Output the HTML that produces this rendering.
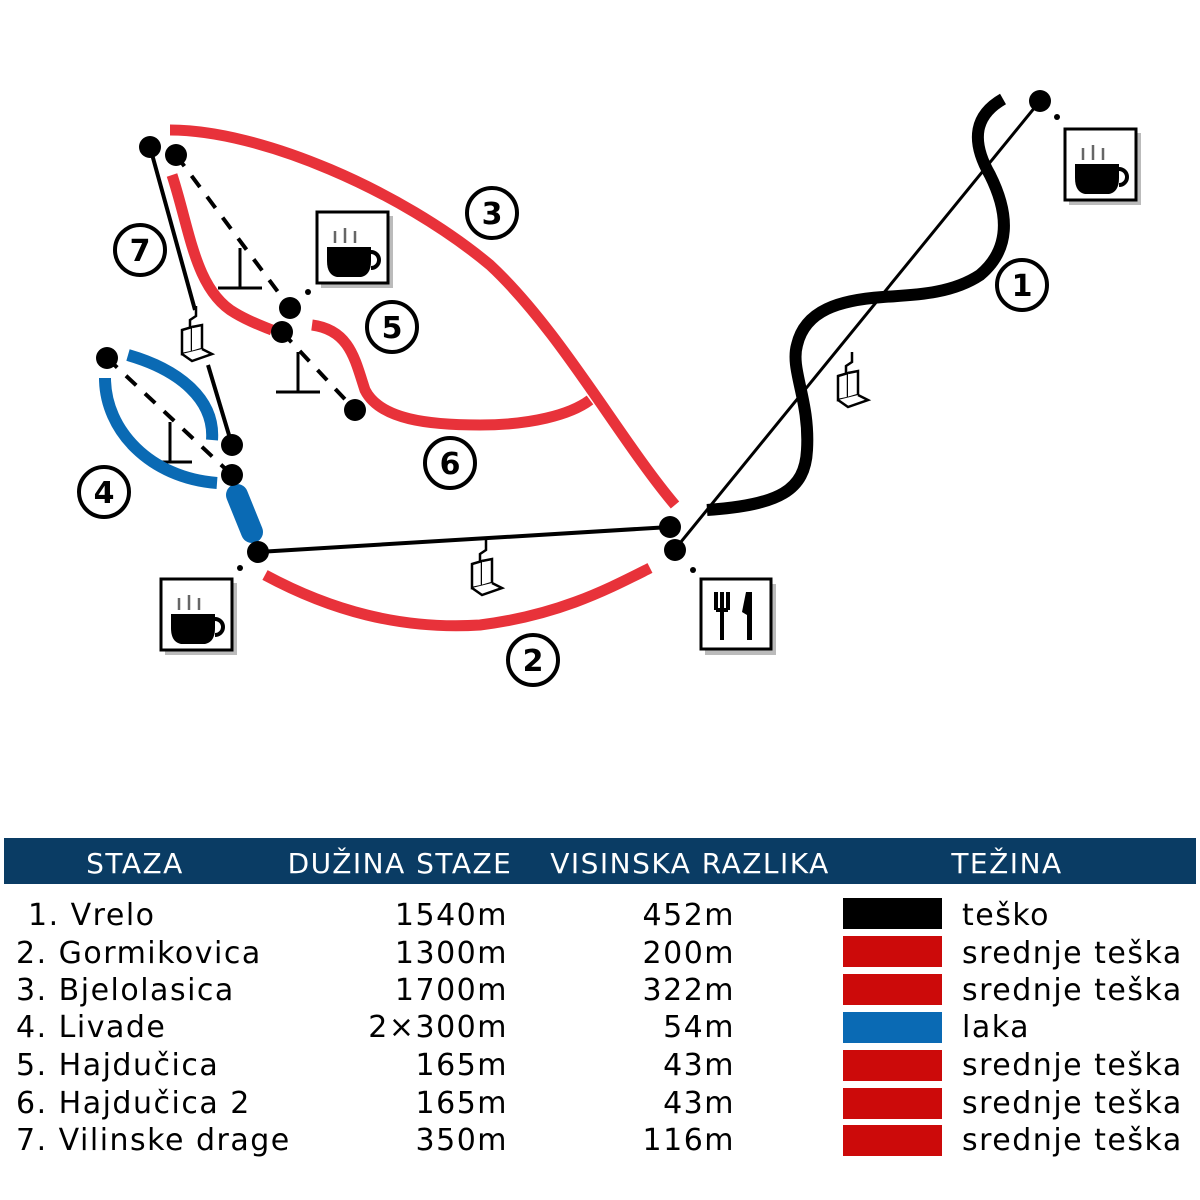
<!DOCTYPE html>
<html><head><meta charset="utf-8"><style>
html,body{margin:0;padding:0;background:#fff;}
body{width:1200px;height:1200px;position:relative;overflow:hidden;}
svg{position:absolute;left:0;top:0;}
</style></head><body>
<svg width="1200" height="1200" viewBox="0 0 1200 1200" xmlns="http://www.w3.org/2000/svg">
<defs>
<g id="cup">
  <rect x="5" y="5" width="72" height="72" fill="#bbb"/>
  <rect x="1" y="1" width="71" height="71" fill="#fff" stroke="#000" stroke-width="3"/>
  <path d="M11,36 L55,36 L55,50 Q55,64 45,66 L21,66 Q11,64 11,50 Z" fill="#000"/>
  <path d="M55,41 a8,8 0 1 1 0,16" fill="none" stroke="#000" stroke-width="4"/>
  <path d="M19,32 L19,20 M29,32 L29,17 M39,32 L39,20" stroke="#666" stroke-width="2.5"/>
</g>
<g id="chair" fill="#fff" stroke="#000" stroke-width="2.5">
  <path d="M0,0 L0,10 L-6,14 L-6,24"/>
  <path d="M-14,24 L-4,21 L-4,46 L-14,48 Z"/>
  <path d="M-4,21 L6,19 L6,43 L-4,46"/>
  <path d="M-14,48 L-4,55 L16,48 L6,43"/>
</g>
<g id="tbar" stroke="#000" stroke-width="3" fill="none">
  <path d="M0,0 L0,40 M-22,40 L22,40"/>
</g>
</defs>

<!-- lifts -->
<line x1="1040" y1="101" x2="676" y2="548" stroke="#000" stroke-width="3"/>
<line x1="258" y1="552" x2="670" y2="527" stroke="#000" stroke-width="4"/>
<line x1="150" y1="147" x2="195" y2="310" stroke="#000" stroke-width="4"/>
<line x1="208" y1="365" x2="232" y2="445" stroke="#000" stroke-width="4"/>
<line x1="176" y1="155" x2="290" y2="308" stroke="#000" stroke-width="4" stroke-dasharray="14,12"/>
<line x1="282" y1="332" x2="355" y2="410" stroke="#000" stroke-width="4" stroke-dasharray="14,12"/>
<line x1="107" y1="358" x2="232" y2="475" stroke="#000" stroke-width="4" stroke-dasharray="14,12"/>

<!-- T-bars and chairs -->
<use href="#tbar" x="240" y="248"/>
<use href="#tbar" x="298" y="352"/>
<use href="#tbar" x="170" y="422"/>
<use href="#chair" x="196" y="306"/>
<use href="#chair" x="486" y="540"/>
<use href="#chair" x="852" y="352"/>

<!-- red runs -->
<g fill="none" stroke="#e8323a" stroke-width="11" stroke-linecap="butt">
<path d="M170,130 C260,130 400,190 490,265 C560,330 620,440 675,505"/>
<path d="M172,175 C190,230 195,290 235,313 C250,322 262,326 272,330"/>
<path d="M312,325 C350,330 355,360 365,390 C380,420 430,425 480,425 C530,425 570,415 590,400"/>
<path d="M265,575 C330,610 400,630 480,625 C560,615 610,588 650,568"/>
</g>
<!-- blue -->
<g fill="none" stroke="#0a6ab4" stroke-width="12">
<path d="M128,355 C180,370 215,400 212,440"/>
<path d="M105,378 C105,430 150,478 217,483"/>
<path d="M237,495 L252,532" stroke-width="22" stroke-linecap="round"/>
</g>
<!-- black run -->
<path d="M1003,99 C975,115 970,140 990,175 C1010,215 1010,250 980,275 C950,295 910,295 883,297 C840,300 805,310 797,345 C790,370 810,400 807,450 C805,490 780,505 707,510" fill="none" stroke="#000" stroke-width="12"/>

<!-- dots -->
<g fill="#000">
<circle cx="150" cy="147" r="11"/><circle cx="176" cy="155" r="11"/>
<circle cx="290" cy="308" r="11"/><circle cx="282" cy="332" r="11"/>
<circle cx="355" cy="410" r="11"/><circle cx="107" cy="358" r="11"/>
<circle cx="232" cy="445" r="11"/><circle cx="232" cy="475" r="11"/>
<circle cx="258" cy="552" r="11"/><circle cx="670" cy="527" r="11"/>
<circle cx="675" cy="550" r="11"/><circle cx="1040" cy="101" r="11"/>
<circle cx="308" cy="292" r="3"/><circle cx="240" cy="568" r="3"/>
<circle cx="693" cy="570" r="3"/><circle cx="1057" cy="117" r="3"/>
</g>

<!-- number circles -->
<g fill="#fff" stroke="#000" stroke-width="4">
<circle cx="1022" cy="285" r="25"/><circle cx="533" cy="660" r="25"/>
<circle cx="492" cy="213" r="25"/><circle cx="104" cy="492" r="25"/>
<circle cx="392" cy="327" r="25"/><circle cx="450" cy="463" r="25"/>
<circle cx="140" cy="250" r="25"/>
</g>
<g font-family="'DejaVu Sans','Liberation Sans',sans-serif" font-weight="bold" font-size="30" text-anchor="middle" fill="#000">
<text x="1022" y="296">1</text><text x="533" y="671">2</text>
<text x="492" y="224">3</text><text x="104" y="503">4</text>
<text x="392" y="338">5</text><text x="450" y="474">6</text>
<text x="140" y="261">7</text>
</g>

<!-- service boxes -->
<use href="#cup" x="316" y="211"/>
<use href="#cup" x="1064" y="128"/>
<use href="#cup" x="160" y="578"/>
<g>
  <rect x="705" y="584" width="71" height="71" fill="#bbb"/>
  <rect x="701" y="579" width="70" height="70" fill="#fff" stroke="#000" stroke-width="3"/>
  <path d="M716,592 L716,610 M722,592 L722,610 M728,592 L728,610 M716,610 L728,610 M722,610 L722,640" stroke="#000" stroke-width="4" fill="none"/>
  <path d="M746,592 L752,592 L752,640 L747,640 L747,615 L742,612 Z" fill="#000"/>
</g>

<!-- table -->
<rect x="4" y="838" width="1192" height="46" fill="#0a3c64"/>
<g font-family="'DejaVu Sans','Liberation Sans',sans-serif" font-size="28" fill="#fff" text-anchor="middle" letter-spacing="1.5">
<text x="135" y="873">STAZA</text>
<text x="400" y="873">DUŽINA STAZE</text>
<text x="690" y="873">VISINSKA RAZLIKA</text>
<text x="1007" y="873">TEŽINA</text>
</g>
<g font-family="'DejaVu Sans','Liberation Sans',sans-serif" font-size="30" fill="#000" letter-spacing="1.5">
<text x="28" y="925">1. Vrelo</text>
<text x="16" y="963">2. Gormikovica</text>
<text x="16" y="1000">3. Bjelolasica</text>
<text x="16" y="1037">4. Livade</text>
<text x="16" y="1075">5. Hajdučica</text>
<text x="16" y="1113">6. Hajdučica 2</text>
<text x="16" y="1150">7. Vilinske drage</text>
</g>
<g font-family="'DejaVu Sans','Liberation Sans',sans-serif" font-size="30" fill="#000" letter-spacing="1.5" text-anchor="end">
<text x="508" y="925">1540m</text><text x="508" y="963">1300m</text>
<text x="508" y="1000">1700m</text><text x="508" y="1037">2×300m</text>
<text x="508" y="1075">165m</text><text x="508" y="1113">165m</text>
<text x="508" y="1150">350m</text>
<text x="735" y="925">452m</text><text x="735" y="963">200m</text>
<text x="735" y="1000">322m</text><text x="735" y="1037">54m</text>
<text x="735" y="1075">43m</text><text x="735" y="1113">43m</text>
<text x="735" y="1150">116m</text>
</g>
<rect x="843" y="898" width="99" height="31" fill="#000"/>
<rect x="843" y="936" width="99" height="31" fill="#cc0a0a"/>
<rect x="843" y="974" width="99" height="31" fill="#cc0a0a"/>
<rect x="843" y="1012" width="99" height="31" fill="#0a6ab4"/>
<rect x="843" y="1050" width="99" height="31" fill="#cc0a0a"/>
<rect x="843" y="1088" width="99" height="31" fill="#cc0a0a"/>
<rect x="843" y="1125" width="99" height="31" fill="#cc0a0a"/>
<g font-family="'DejaVu Sans','Liberation Sans',sans-serif" font-size="30" fill="#000" letter-spacing="1.5">
<text x="962" y="925">teško</text>
<text x="962" y="963">srednje teška</text>
<text x="962" y="1000">srednje teška</text>
<text x="962" y="1037">laka</text>
<text x="962" y="1075">srednje teška</text>
<text x="962" y="1113">srednje teška</text>
<text x="962" y="1150">srednje teška</text>
</g>
</svg>
</body></html>
